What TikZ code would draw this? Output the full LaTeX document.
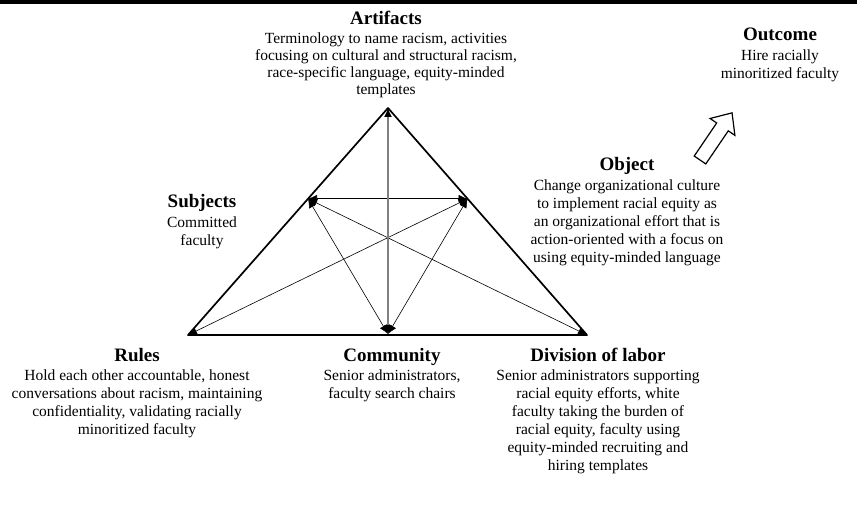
\documentclass[tikz,border=0pt]{standalone}
\usepackage{fontspec}
\setmainfont{Liberation Serif}
\usetikzlibrary{positioning,calc,arrows.meta}
\tikzset{
  head/.style={font=\fontsize{19}{22}\selectfont\bfseries,inner sep=0pt,text height=13pt,text depth=4pt,anchor=base},
  body/.style={font=\fontsize{15.5}{18}\selectfont,align=center,inner sep=0pt},
  side/.style={line width=1.7pt,line join=round},
  tip/.tip={Latex[length=9pt,width=8pt,color=black]},
  link/.style={line width=0.6pt,tip-tip},
}
\begin{document}
\begin{tikzpicture}[x=1pt,y=-1pt,line cap=round]
  \useasboundingbox (0,0) rectangle (857,505);
  \draw[line width=4pt,line cap=butt] (0,2) -- (857,2);
  % corners of the triangle
  \coordinate (apex) at (388,108);
  \coordinate (left) at (188,335);
  \coordinate (right) at (587,335);
  \coordinate (mid) at (388,334);
  \coordinate (subj) at ($(left)!0.6!(apex)$);
  \coordinate (obj) at ($(right)!0.6!(apex)$);
  \draw[side] (left) -- (apex) -- (right) -- cycle;
  \draw[link] (subj) -- (obj);
  \draw[link] (subj) -- (right);
  \draw[link] (obj) -- (left);
  \draw[link] (subj) -- (mid);
  \draw[link] (obj) -- (mid);
  \draw[link,gray,line width=1.4pt] (mid) -- (apex);
  % labels
  \node[head] (artifacts) at (386,25) {Artifacts};
  \node[body,below=3.5pt of artifacts,font=\fontsize{15.5}{17}\selectfont] (artifactstext) {Terminology to name racism, activities\\focusing on cultural and structural racism,\\race-specific language, equity-minded\\templates};
  \node[head] (outcome) at (780,41) {Outcome};
  \node[body,below=4.4pt of outcome] (outcometext) {Hire racially\\minoritized faculty};
  \node[head] (object) at (627,171) {Object};
  \node[body,below=4.4pt of object] (objecttext) {Change organizational culture\\to implement racial equity as\\an organizational effort that is\\action-oriented with a focus on\\using equity-minded language};
  \node[head] (subjects) at (202,208) {Subjects};
  \node[body,below=4.4pt of subjects] (subjectstext) {Committed\\faculty};
  \node[head] (rules) at (137,361) {Rules};
  \node[body,below=4.4pt of rules] (rulestext) {Hold each other accountable, honest\\conversations about racism, maintaining\\confidentiality, validating racially\\minoritized faculty};
  \node[head] (community) at (392,361) {Community};
  \node[body,below=4.4pt of community] (communitytext) {Senior administrators,\\faculty search chairs};
  \node[head] (division) at (598,361) {Division of labor};
  \node[body,below=4.4pt of division] (divisiontext) {Senior administrators supporting\\racial equity efforts, white\\faculty taking the burden of\\racial equity, faculty using\\equity-minded recruiting and\\hiring templates};
  % hollow arrow towards the outcome
  \begin{scope}[shift={(700,160)},rotate=55.8]
    \draw[line width=1.2pt,line join=miter] (0,-7) -- (40,-7) -- (40,-15) -- (57,0) -- (40,15) -- (40,7) -- (0,7) -- cycle;
  \end{scope}
\end{tikzpicture}
\end{document}
